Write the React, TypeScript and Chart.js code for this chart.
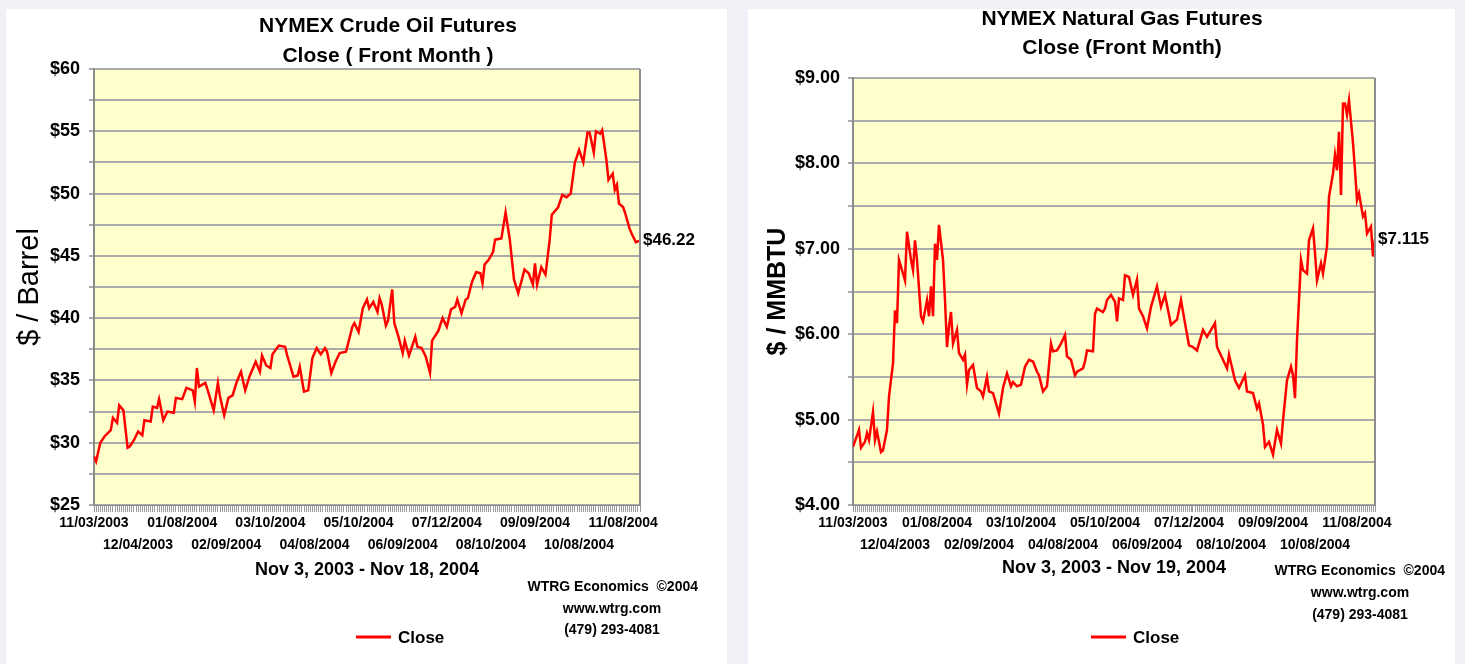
import React, { useEffect, useRef } from 'react';
import { Chart, registerables } from 'chart.js';

Chart.register(...registerables);

const FONT = "'Liberation Sans', Arial, Helvetica, sans-serif";

// ---------- shared x-axis labels (trading-day index, one label every 21 days) ----------
const DATE_LABELS = [
  '11/03/2003', '12/04/2003', '01/08/2004', '02/09/2004', '03/10/2004', '04/08/2004',
  '05/10/2004', '06/09/2004', '07/12/2004', '08/10/2004', '09/09/2004', '10/08/2004', '11/08/2004',
];
const LABEL_EVERY = 21;

// ---------- crude oil (trading-day index, close $/bbl) ----------
const OIL_LAST_DAY = 260;
const OIL_DAY = [
  0, 1, 3, 5, 8, 9, 11, 12, 14, 16,
  17, 19, 21, 23, 24, 27, 28, 30, 31, 33,
  35, 38, 39, 42, 44, 47, 48, 49, 50, 53,
  54, 57, 59, 60, 62, 64, 66, 68, 70, 72,
  74, 77, 79, 80, 82, 84, 85, 88, 91, 92,
  95, 97, 98, 100, 102, 104, 106, 108, 110, 111,
  113, 115, 117, 120, 123, 124, 126, 128, 130, 131,
  133, 135, 136, 137, 139, 140, 142, 143, 145, 147,
  148, 150, 153, 154, 156, 158, 160, 161, 164, 166,
  168, 170, 172, 173, 175, 177, 178, 180, 182, 184,
  185, 186, 188, 190, 191, 194, 196, 198, 200, 202,
  205, 207, 209, 210, 211, 213, 215, 217, 218, 221,
  223, 225, 227, 229, 231, 233, 235, 236, 238, 239,
  241, 242, 244, 245, 247, 248, 249, 250, 252, 253,
  255, 256, 258, 260,
];
const OIL_CLOSE = [
  28.9, 28.5, 30.0, 30.5, 31.0, 32.0, 31.6, 33.0, 32.6, 29.6,
  29.7, 30.2, 30.9, 30.6, 31.8, 31.7, 32.9, 32.8, 33.5, 31.8,
  32.5, 32.4, 33.6, 33.5, 34.4, 34.2, 33.3, 36.0, 34.5, 34.8,
  34.3, 32.6, 34.8, 33.7, 32.2, 33.6, 33.8, 34.9, 35.7, 34.2,
  35.3, 36.5, 35.7, 37.0, 36.2, 36.0, 37.1, 37.8, 37.7, 37.0,
  35.3, 35.4, 36.1, 34.1, 34.2, 36.8, 37.6, 37.1, 37.6, 37.3,
  35.6, 36.5, 37.2, 37.3, 39.3, 39.6, 38.9, 40.8, 41.5, 40.8,
  41.3, 40.5, 41.6, 41.1, 39.4, 39.8, 42.3, 39.6, 38.5, 37.2,
  38.2, 37.0, 38.5, 37.7, 37.6, 36.9, 35.6, 38.2, 39.0, 40.0,
  39.3, 40.7, 40.9, 41.5, 40.4, 41.5, 41.6, 42.9, 43.7, 43.6,
  42.8, 44.3, 44.7, 45.3, 46.3, 46.4, 48.5, 46.3, 43.1, 42.0,
  43.9, 43.6, 42.7, 44.4, 42.7, 44.1, 43.5, 46.3, 48.3, 48.9,
  49.9, 49.7, 50.0, 52.5, 53.5, 52.5, 54.9, 54.9, 53.3, 55.0,
  54.8, 55.1, 52.7, 51.1, 51.6, 50.3, 50.7, 49.2, 48.9, 48.4,
  47.2, 46.8, 46.1, 46.22,
];

// ---------- natural gas (trading-day index, close $/MMBTU) ----------
const GAS_LAST_DAY = 261;
const GAS_DAY = [
  0, 3, 4, 6, 7, 8, 10, 11, 12, 14,
  15, 17, 18, 20, 21, 22, 23, 25, 26, 27,
  29, 30, 31, 32, 34, 35, 37, 38, 39, 40,
  41, 42, 43, 45, 46, 47, 48, 49, 50, 52,
  53, 55, 56, 57, 58, 60, 62, 64, 65, 67,
  68, 70, 73, 75, 77, 79, 80, 82, 84, 86,
  88, 90, 92, 93, 95, 97, 99, 100, 102, 104,
  106, 107, 109, 111, 112, 115, 116, 117, 120, 121,
  122, 125, 126, 127, 129, 131, 132, 133, 135, 136,
  138, 140, 142, 143, 145, 147, 149, 152, 154, 156,
  159, 162, 164, 166, 168, 170, 172, 175, 177, 178,
  181, 182, 185, 187, 188, 191, 193, 196, 197, 200,
  202, 203, 205, 206, 208, 210, 212, 214, 215, 217,
  219, 220, 221, 222, 224, 225, 227, 228, 230, 231,
  232, 234, 235, 237, 238, 240, 241, 242, 243, 244,
  245, 246, 247, 248, 250, 251, 252, 253, 255, 256,
  257, 259, 260, 261,
];
const GAS_CLOSE = [
  4.68, 4.88, 4.67, 4.74, 4.84, 4.76, 5.09, 4.76, 4.86, 4.62,
  4.64, 4.88, 5.27, 5.66, 6.28, 6.13, 6.87, 6.71, 6.63, 7.20,
  6.87, 6.75, 7.10, 6.87, 6.21, 6.15, 6.40, 6.21, 6.56, 6.21,
  7.06, 6.87, 7.28, 6.87, 6.40, 5.85, 6.09, 6.26, 5.89, 6.05,
  5.78, 5.70, 5.76, 5.41, 5.58, 5.64, 5.37, 5.33, 5.27, 5.50,
  5.33, 5.31, 5.07, 5.37, 5.54, 5.39, 5.44, 5.39, 5.41, 5.62,
  5.70, 5.68, 5.56, 5.52, 5.33, 5.39, 5.89, 5.80, 5.81, 5.89,
  5.99, 5.74, 5.70, 5.52, 5.56, 5.60, 5.68, 5.81, 5.80, 6.24,
  6.30, 6.26, 6.30, 6.40, 6.46, 6.38, 6.15, 6.42, 6.40, 6.69,
  6.67, 6.46, 6.64, 6.30, 6.21, 6.07, 6.32, 6.56, 6.32, 6.46,
  6.11, 6.17, 6.40, 6.13, 5.87, 5.85, 5.81, 6.05, 5.97, 6.01,
  6.13, 5.85, 5.70, 5.60, 5.76, 5.46, 5.37, 5.52, 5.33, 5.31,
  5.13, 5.19, 4.94, 4.68, 4.74, 4.59, 4.88, 4.72, 4.99, 5.46,
  5.62, 5.52, 5.25, 5.93, 6.87, 6.75, 6.71, 7.10, 7.24, 6.95,
  6.63, 6.83, 6.71, 7.03, 7.61, 7.88, 8.10, 7.92, 8.37, 7.63,
  8.70, 8.70, 8.57, 8.74, 8.24, 7.92, 7.57, 7.65, 7.38, 7.42,
  7.18, 7.26, 6.91, 7.115,
];

const CREDIT_LINES = ['WTRG Economics  \u00A92004', 'www.wtrg.com', '(479) 293-4081'];

// ---------- decoration plugin: plot fill, right border, end value, credits, legend ----------
const decorPlugin = {
  id: 'decor',
  beforeDraw(chart: any, _args: any, opts: any) {
    const { ctx, chartArea: a } = chart;
    ctx.save();
    ctx.fillStyle = opts.plotBg;
    ctx.fillRect(a.left, a.top, a.right - a.left, a.bottom - a.top);
    ctx.restore();
  },
  afterDraw(chart: any, _args: any, opts: any) {
    const { ctx, chartArea: a } = chart;
    ctx.save();
    ctx.strokeStyle = '#8c8c8c';
    ctx.lineWidth = 2;
    ctx.beginPath();
    ctx.moveTo(a.right, a.top);
    ctx.lineTo(a.right, a.bottom);
    ctx.stroke();

    const data = chart.data.datasets[0].data;
    const last = data[data.length - 1];
    const yPix = chart.scales.y.getPixelForValue(last.y);
    ctx.fillStyle = '#000';
    ctx.font = `bold 17px ${FONT}`;
    ctx.textBaseline = 'middle';
    ctx.textAlign = 'left';
    ctx.fillText(opts.endLabel, a.right + 3, yPix);

    ctx.font = `bold 14px ${FONT}`;
    ctx.textAlign = 'right';
    ctx.fillText(CREDIT_LINES[0], opts.creditRight, opts.creditY[0]);
    ctx.textAlign = 'center';
    ctx.fillText(CREDIT_LINES[1], opts.creditCenter, opts.creditY[1]);
    ctx.fillText(CREDIT_LINES[2], opts.creditCenter, opts.creditY[2]);

    const ds = chart.data.datasets[0];
    ctx.strokeStyle = ds.borderColor;
    ctx.lineWidth = 3;
    ctx.beginPath();
    ctx.moveTo(opts.legendX, opts.legendY);
    ctx.lineTo(opts.legendX + 35, opts.legendY);
    ctx.stroke();
    ctx.font = `bold 17px ${FONT}`;
    ctx.textAlign = 'left';
    ctx.fillStyle = '#000';
    ctx.fillText(ds.label, opts.legendX + 42, opts.legendY + 1);
    ctx.restore();
  },
};

type Spec = {
  width: number;
  height: number;
  days: number[];
  values: number[];
  lastDay: number;
  yMin: number;
  yMax: number;
  yStep: number;
  yLabelEvery: number;
  yFmt: (v: number) => string;
  yTitle: string;
  yTitleFont: any;
  yTitlePad: number;
  yAxisWidth: number;
  yTickPad: number;
  title: string[];
  titleLineHeight: number;
  titlePad: { top: number; bottom: number };
  xTitle: string;
  xTitlePadBottom: number;
  rightGap: number;
  endLabel: string;
  creditRight: number;
  creditCenter: number;
  creditY: number[];
  legendX: number;
  legendY: number;
};

function FuturesChart({ spec, style }: { spec: Spec; style: React.CSSProperties }) {
  const ref = useRef<HTMLCanvasElement | null>(null);
  useEffect(() => {
    if (!ref.current) return;
    const s = spec;
    const points = s.days.map((d, i) => ({ x: d, y: s.values[i] }));
    const chart = new Chart(ref.current, {
      type: 'line',
      data: {
        datasets: [
          {
            label: 'Close',
            data: points,
            borderColor: '#ff0000',
            borderWidth: 2.5,
            pointRadius: 0,
            tension: 0,
            fill: false,
          },
        ],
      },
      options: {
        animation: false,
        responsive: false,
        maintainAspectRatio: false,
        events: [],
        layout: { padding: { left: 0, top: 0, right: 0, bottom: s.height - 496 - 80 } },
        plugins: {
          legend: { display: false },
          tooltip: { enabled: false },
          title: {
            display: true,
            text: s.title,
            color: '#000',
            font: { family: FONT, size: 21, weight: 'bold', lineHeight: s.titleLineHeight / 21 },
            padding: s.titlePad,
          },
          decor: {
            plotBg: '#ffffcc',
            endLabel: s.endLabel,
            creditRight: s.creditRight,
            creditCenter: s.creditCenter,
            creditY: s.creditY,
            legendX: s.legendX,
            legendY: s.legendY,
          },
        } as any,
        scales: {
          x: {
            type: 'linear',
            min: 0,
            max: s.lastDay,
            afterBuildTicks: (scale: any) => {
              const t = [];
              for (let i = 0; i <= s.lastDay; i++) t.push({ value: i });
              scale.ticks = t;
            },
            afterFit: (scale: any) => {
              scale.height = 80;
            },
            ticks: {
              autoSkip: false,
              maxRotation: 0,
              minRotation: 0,
              padding: 0,
              color: '#000',
              font: { family: FONT, size: 14, weight: 'bold', lineHeight: 22 / 14 },
              callback: (value: any) => {
                const v = Number(value);
                if (v % LABEL_EVERY !== 0) return '';
                const k = v / LABEL_EVERY;
                const lab = DATE_LABELS[k];
                if (!lab) return '';
                return k % 2 === 0 ? [lab, ''] : ['', lab];
              },
            },
            grid: {
              drawOnChartArea: false,
              drawTicks: true,
              tickLength: 7,
              color: '#9a9a9a',
              lineWidth: 1,
            },
            border: { display: true, color: '#8c8c8c', width: 1 },
            title: {
              display: true,
              text: s.xTitle,
              color: '#000',
              font: { family: FONT, size: 18, weight: 'bold', lineHeight: 1.2 },
              padding: { top: 0, bottom: s.xTitlePadBottom },
            },
          },
          y: {
            min: s.yMin,
            max: s.yMax,
            afterFit: (scale: any) => {
              scale.width = s.yAxisWidth;
            },
            ticks: {
              stepSize: s.yStep,
              padding: s.yTickPad,
              color: '#000',
              font: { family: FONT, size: 18, weight: 'bold' },
              callback: (value: any) => {
                const v = Number(value);
                const r = v / s.yLabelEvery;
                return Math.abs(r - Math.round(r)) < 1e-6 ? s.yFmt(v) : '';
              },
            },
            grid: {
              color: '#ababab',
              lineWidth: 2,
              drawTicks: true,
              tickLength: 5,
            },
            border: { display: true, color: '#8c8c8c', width: 2 },
            title: {
              display: true,
              text: s.yTitle,
              color: '#000',
              font: s.yTitleFont,
              padding: { top: s.yTitlePad, bottom: 0 },
            },
          },
          // empty right-hand axis that only reserves room for the end-value label
          yGap: {
            type: 'linear',
            position: 'right',
            display: true,
            min: s.yMin,
            max: s.yMax,
            grid: { display: false, drawTicks: false },
            border: { display: false },
            ticks: { display: false },
            afterFit: (scale: any) => {
              scale.width = s.rightGap;
            },
          },
        },
      },
      plugins: [decorPlugin as any],
    });
    return () => chart.destroy();
  }, [spec]);
  return <canvas ref={ref} width={spec.width} height={spec.height} style={style} />;
}

const OIL_SPEC: Spec = {
  width: 764,
  height: 655,
  days: OIL_DAY,
  values: OIL_CLOSE,
  lastDay: OIL_LAST_DAY,
  yMin: 25,
  yMax: 60,
  yStep: 2.5,
  yLabelEvery: 5,
  yFmt: (v) => '$' + v,
  yTitle: '$ / Barrel',
  yTitleFont: { family: FONT, size: 29, weight: 'normal', lineHeight: 1.2 },
  yTitlePad: 7,
  yAxisWidth: 88,
  yTickPad: 9,
  title: ['NYMEX Crude Oil Futures', 'Close ( Front Month )'],
  titleLineHeight: 30,
  titlePad: { top: 2, bottom: -2 },
  xTitle: 'Nov 3, 2003 - Nov 18, 2004',
  xTitlePadBottom: 4,
  rightGap: 130,
  endLabel: '$' + OIL_CLOSE[OIL_CLOSE.length - 1].toFixed(2),
  creditRight: 692,
  creditCenter: 606,
  creditY: [578, 600, 621],
  legendX: 350,
  legendY: 628,
};

const GAS_SPEC: Spec = {
  width: 748,
  height: 655,
  days: GAS_DAY,
  values: GAS_CLOSE,
  lastDay: GAS_LAST_DAY,
  yMin: 4,
  yMax: 9,
  yStep: 0.5,
  yLabelEvery: 1,
  yFmt: (v) => '$' + v.toFixed(2),
  yTitle: '$ / MMBTU',
  yTitleFont: { family: FONT, size: 25, weight: 'bold', lineHeight: 1.2 },
  yTitlePad: 15,
  yAxisWidth: 105,
  yTickPad: 8,
  title: ['NYMEX Natural Gas Futures', 'Close (Front Month)'],
  titleLineHeight: 29,
  titlePad: { top: -4.5, bottom: 15.5 },
  xTitle: 'Nov 3, 2003 - Nov 19, 2004',
  xTitlePadBottom: 6,
  rightGap: 121,
  endLabel: '$' + String(GAS_CLOSE[GAS_CLOSE.length - 1]),
  creditRight: 697,
  creditCenter: 612,
  creditY: [562, 584, 606],
  legendX: 343,
  legendY: 628,
};

export default function App() {
  return (
    <div
      style={{
        position: 'fixed',
        left: 0,
        top: 0,
        width: 1465,
        height: 664,
        overflow: 'hidden',
        background: '#eff1f6',
      }}
    >
      <div style={{ position: 'absolute', left: 6, top: 9, width: 721, height: 655, background: '#ffffff' }} />
      <div style={{ position: 'absolute', left: 748, top: 9, width: 707, height: 655, background: '#ffffff' }} />
      <FuturesChart spec={OIL_SPEC} style={{ position: 'absolute', left: 6, top: 9, width: 764, height: 655 }} />
      <FuturesChart spec={GAS_SPEC} style={{ position: 'absolute', left: 748, top: 9, width: 748, height: 655 }} />
    </div>
  );
}
